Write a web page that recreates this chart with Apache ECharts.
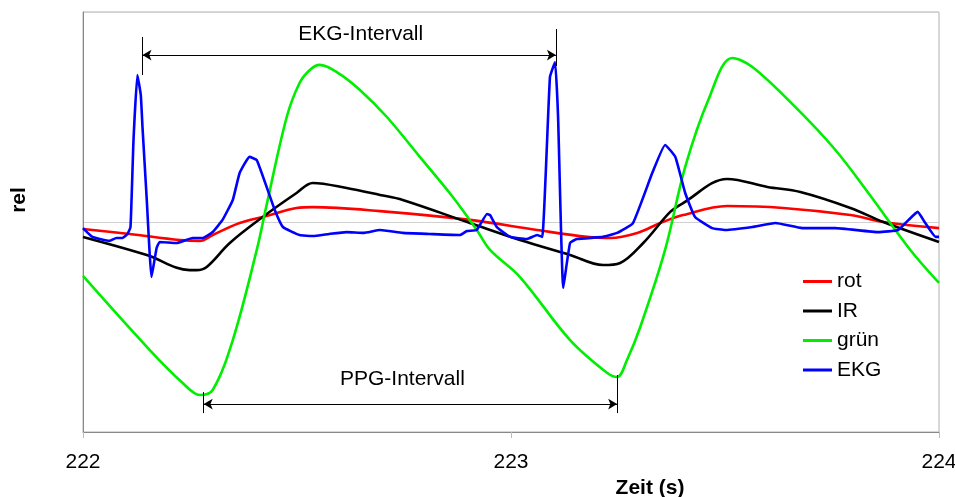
<!DOCTYPE html>
<html>
<head>
<meta charset="utf-8">
<script src="https://cdn.jsdelivr.net/npm/echarts@6/dist/echarts.min.js"></script>
<style>
  html, body { margin: 0; padding: 0; background: #fff; }
  #chart { width: 955px; height: 497px; }
</style>
</head>
<body>
<div id="chart"></div>
<script>
// Zeit (s) / rel
var rotData = [
  [222.000, -0.033], [222.109, -0.057], [222.226, -0.086], [222.273, -0.090],
  [222.303, -0.062], [222.366, -0.005], [222.429, 0.029], [222.499, 0.067],
  [222.537, 0.071], [222.694, 0.052], [222.904, 0.010], [223.061, -0.038],
  [223.178, -0.071], [223.232, -0.076], [223.295, -0.052], [223.349, -0.005],
  [223.402, 0.033], [223.505, 0.076], [223.636, 0.067], [223.793, 0.033],
  [223.870, 0.000], [224.000, -0.029]
];
var irData = [
  [222.000, -0.071], [222.149, -0.157], [222.249, -0.229], [222.265, -0.229],
  [222.289, -0.214], [222.343, -0.100], [222.420, 0.024], [222.499, 0.138],
  [222.537, 0.186], [222.616, 0.162], [222.694, 0.129], [222.747, 0.105],
  [222.904, -0.005], [223.021, -0.086], [223.138, -0.157], [223.215, -0.205],
  [223.255, -0.195], [223.309, -0.100], [223.372, 0.048], [223.402, 0.090],
  [223.505, 0.205], [223.599, 0.167], [223.676, 0.143], [223.793, 0.067],
  [223.870, 0.000], [224.000, -0.095]
];
var gruenData = [
  [222.000, -0.257], [222.156, -0.610], [222.233, -0.767], [222.273, -0.824],
  [222.303, -0.800], [222.350, -0.562], [222.406, -0.133], [222.429, 0.081],
  [222.476, 0.500], [222.506, 0.662], [222.530, 0.724], [222.553, 0.748],
  [222.593, 0.714], [222.647, 0.629], [222.710, 0.500], [222.787, 0.310],
  [222.864, 0.119], [222.920, -0.038], [222.951, -0.133], [223.021, -0.262],
  [223.138, -0.562], [223.225, -0.719], [223.248, -0.738], [223.271, -0.657],
  [223.302, -0.500], [223.360, -0.133], [223.407, 0.262], [223.461, 0.581],
  [223.517, 0.781], [223.564, 0.738], [223.664, 0.548], [223.758, 0.343],
  [223.835, 0.138], [223.933, -0.133], [224.000, -0.290]
];
var ekgData = [
  [222.000, -0.029], [222.022, -0.071], [222.062, -0.090], [222.078, -0.076],
  [222.092, -0.076], [222.104, -0.057], [222.111, -0.024], [222.118, 0.390],
  [222.127, 0.700], [222.135, 0.605], [222.139, 0.452], [222.149, 0.105],
  [222.160, -0.262], [222.172, -0.124], [222.179, -0.095], [222.219, -0.100],
  [222.256, -0.076], [222.280, -0.076], [222.303, -0.048], [222.326, 0.010],
  [222.350, 0.105], [222.366, 0.233], [222.389, 0.310], [222.406, 0.295],
  [222.429, 0.167], [222.448, 0.057], [222.467, -0.024], [222.506, -0.062],
  [222.537, -0.067], [222.575, -0.057], [222.616, -0.048], [222.655, -0.052],
  [222.694, -0.038], [222.747, -0.052], [222.810, -0.057], [222.881, -0.062],
  [222.897, -0.043], [222.920, -0.038], [222.944, 0.038], [222.951, 0.033],
  [222.967, -0.024], [222.998, -0.071], [223.037, -0.081], [223.061, -0.062],
  [223.073, -0.071], [223.091, 0.690], [223.103, 0.762], [223.110, 0.500],
  [223.122, -0.314], [223.138, -0.100], [223.154, -0.081], [223.215, -0.071],
  [223.248, -0.052], [223.285, -0.005], [223.330, 0.233], [223.360, 0.367],
  [223.384, 0.310], [223.407, 0.138], [223.430, 0.024], [223.470, -0.029],
  [223.501, -0.038], [223.564, -0.024], [223.618, -0.005], [223.681, -0.029],
  [223.758, -0.029], [223.858, -0.048], [223.905, -0.038], [223.929, 0.010],
  [223.950, 0.048], [223.968, -0.005], [223.992, -0.071], [224.000, -0.071]
];
var xTicks = [222, 223, 224];

// Intervalle: [Start, Ende, Höhe]
var ekgInterval = [222.139, 223.105, 0.795];
var ppgInterval = [222.282, 223.248, -0.867];

var font = 'Liberation Sans, Arial, sans-serif';

function intervalLines(iv, label, tick1, tick2, dist, pad) {
  var tickStyle = { color: '#000', width: 1, type: 'solid' };
  return [
    [
      { coord: [iv[0], iv[2]], symbol: 'arrow', symbolSize: [8, 9],
        label: { show: true, formatter: label, position: 'middle', distance: dist, padding: pad,
                 color: '#000', fontSize: 21, fontFamily: font } },
      { coord: [iv[1], iv[2]], symbol: 'arrow', symbolSize: [8, 9] }
    ],
    [
      { coord: [iv[0], tick1[0]], symbol: 'none', lineStyle: tickStyle },
      { coord: [iv[0], tick1[1]], symbol: 'none' }
    ],
    [
      { coord: [iv[1], tick2[0]], symbol: 'none', lineStyle: tickStyle },
      { coord: [iv[1], tick2[1]], symbol: 'none' }
    ]
  ];
}

var chart = echarts.init(document.getElementById('chart'));

function lineSeries(name, data, color, smooth) {
  return {
    name: name,
    type: 'line',
    data: data,
    showSymbol: false,
    symbol: 'none',
    smooth: smooth,
    lineStyle: { color: color, width: 2.6 },
    itemStyle: { color: color },
    emphasis: { disabled: true },
    animation: false
  };
}

var option = {
  animation: false,
  textStyle: { fontFamily: font },
  grid: {
    left: 83, top: 12, right: 16, bottom: 65,
    outerBoundsMode: 'none', containLabel: false,
    show: true, borderColor: '#b0b0b0', borderWidth: 1
  },
  legend: {
    orient: 'vertical',
    left: 798,
    top: 266,
    icon: 'rect',
    itemWidth: 29,
    itemHeight: 3,
    itemGap: 8.5,
    textStyle: { fontSize: 21, lineHeight: 21, color: '#000', fontFamily: font },
    data: ['rot', 'IR', 'grün', 'EKG']
  },
  xAxis: {
    type: 'value',
    min: xTicks[0],
    max: xTicks[xTicks.length - 1],
    interval: 1,
    name: 'Zeit (s)',
    nameLocation: 'middle',
    nameGap: 44,
    nameTextStyle: { fontSize: 21, fontWeight: 'bold', color: '#000', fontFamily: font, padding: [0, 0, 0, 278] },
    axisLine: { onZero: false, lineStyle: { color: '#888', width: 1 } },
    axisTick: { show: true, length: 6, lineStyle: { color: '#bbb' } },
    axisLabel: { fontSize: 21, color: '#000', margin: 20, fontFamily: font },
    splitLine: { show: false }
  },
  yAxis: {
    type: 'value',
    min: -1,
    max: 1,
    interval: 1,
    axisLine: { show: true, onZero: false, lineStyle: { color: '#888', width: 1 } },
    axisTick: { show: false },
    axisLabel: { show: false },
    splitLine: { show: true, lineStyle: { color: '#d0d0d0', width: 1 } }
  },
  graphic: [
    { type: 'text', x: 19, y: 200, rotation: Math.PI / 2,
      style: { text: 'rel', font: 'bold 21px ' + font, fill: '#000', align: 'center', verticalAlign: 'middle' } }
  ],
  series: [
    lineSeries('rot', rotData, '#ff0000', 0.35),
    lineSeries('IR', irData, '#000000', 0.35),
    lineSeries('grün', gruenData, '#00ee00', 0.35),
    lineSeries('EKG', ekgData, '#0000ff', 0.12),
    {
      name: 'intervalle',
      type: 'line',
      data: [],
      silent: true,
      markLine: {
        silent: true,
        animation: false,
        lineStyle: { color: '#000', width: 1, type: 'solid' },
        label: { show: false },
        data: intervalLines(ekgInterval, 'EKG-Intervall', [0.881, 0.700], [0.919, 0.743], 10.5, [0, 0, 0, 23])
          .concat(intervalLines(ppgInterval, 'PPG-Intervall', [-0.810, -0.910], [-0.729, -0.910], 14.5, [0, 16, 0, 0]))
      }
    }
  ]
};

chart.setOption(option);
</script>
</body>
</html>
